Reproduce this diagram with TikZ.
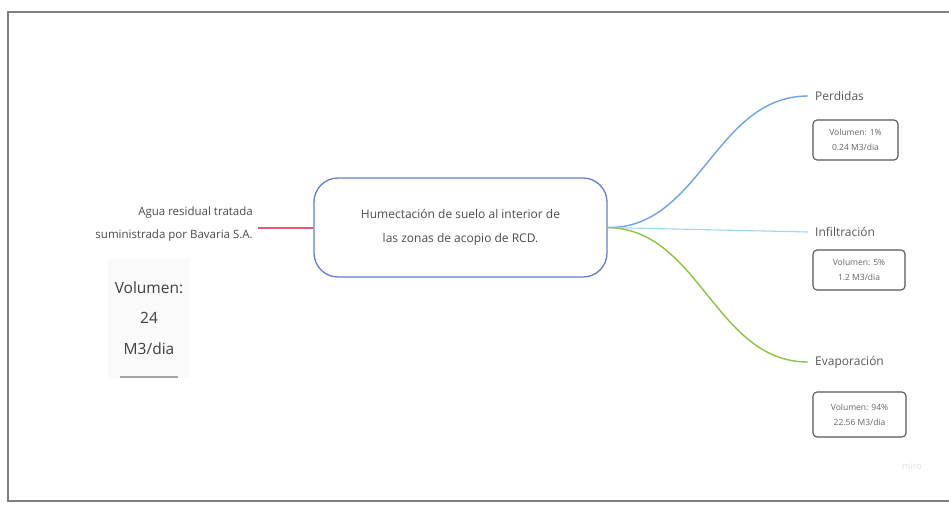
\documentclass[tikz,border=0pt]{standalone}
\usepackage{fontspec}
\setmainfont{Open Sans}
\usetikzlibrary{calc}
\definecolor{cblue}{RGB}{100,125,215}
\definecolor{lblue}{RGB}{110,165,225}
\definecolor{lcyan}{RGB}{160,215,240}
\definecolor{lgreen}{RGB}{140,195,75}
\definecolor{srcred}{RGB}{230,90,120}
\begin{document}
\begin{tikzpicture}[x=1pt,y=-1pt,
  txt/.style={text=black!70,font=\fontsize{12}{24}\selectfont},
  branch/.style={text=black!65,font=\fontsize{12}{14}\selectfont,anchor=west,inner sep=0pt},
  volbox/.style={draw=black!65,line width=1.1pt,rounded corners=4pt,align=center,text=black!60,
    font=\fontsize{8.5}{15}\selectfont,inner sep=0pt},
  link/.style={line width=1.4pt}]
\useasboundingbox (0,0) rectangle (949,506);
\fill[white] (0,0) rectangle (949,506);
\draw[black!50,line width=1.3pt] (960,12) -- (8,12) -- (8,501) -- (960,501);
% source
\node[txt,font=\fontsize{11.5}{23}\selectfont,align=right,anchor=east,inner sep=0pt] (src) at (253,224.5) {Agua residual tratada\\suministrada por Bavaria S.A.};
\coordinate (s) at (258,228);
\node[fill=black!2,minimum width=82pt,minimum height=120pt,align=center,text=black!75,
  font=\fontsize{15.5}{30.5}\selectfont,inner sep=0pt] (vol) at (149,318) {Volumen:\\24\\M3/dia};
\draw[black!35,line width=1.5pt] ($(vol.south west)+(12,-1)$) -- ($(vol.south east)+(-12,-1)$);
% central node
\node[draw=cblue,line width=1.3pt,rounded corners=24pt,minimum width=293pt,minimum height=99pt,
  align=center,txt] (c) at (460.5,227.5) {Humectación de suelo al interior de\\las zonas de acopio de RCD.};
\draw[draw=srcred,line width=1.6pt] (s) -- (c.west |- s);
% branches
\node[branch] (p) at (815,96) {Perdidas};
\node[branch] (i) at (815,232) {Infiltración};
\node[branch] (e) at (815,362) {Evaporación};
\coordinate (o) at (c.east);
\draw[link,draw=lblue] (o) .. controls (700,229) and (715,96) .. ([xshift=-7pt]p.west);
\draw[link,draw=lcyan,line width=1.1pt] (o) -- ([xshift=-7pt]i.west);
\draw[link,draw=lgreen] (o) .. controls (700,229) and (715,362) .. ([xshift=-7pt]e.west);
\node[volbox,minimum width=85pt,minimum height=40pt] (pb) at (855.5,140) {Volumen: 1\%\\0.24 M3/dia};
\node[volbox,minimum width=92pt,minimum height=40pt] (ib) at (859,270) {Volumen: 5\%\\1.2 M3/dia};
\node[volbox,minimum width=93pt,minimum height=45pt] (eb) at (859.5,414.5) {Volumen: 94\%\\22.56 M3/dia};
\node[text=black!12,font=\fontsize{9}{10}\selectfont] (m) at (912,466) {miro};
\end{tikzpicture}
\end{document}
